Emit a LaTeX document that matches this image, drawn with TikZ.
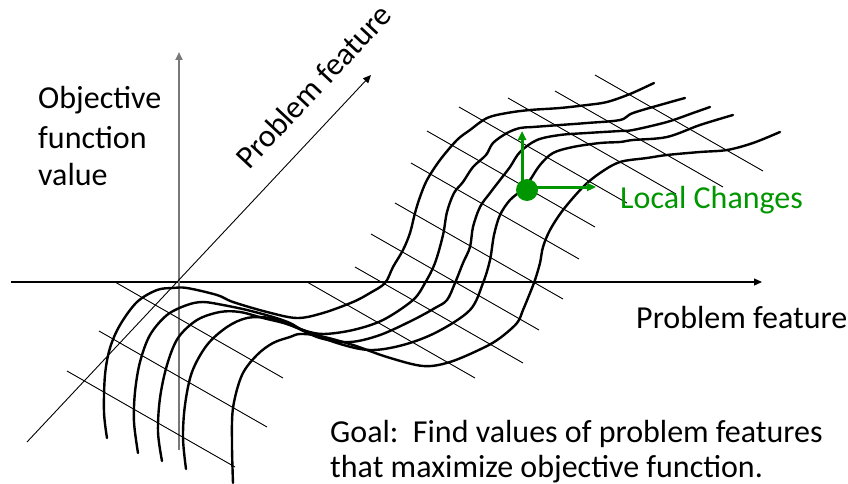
\documentclass[tikz,border=0pt]{standalone}
\usepackage{fontspec}
\setmainfont{Carlito}
\usetikzlibrary{arrows.meta}
\definecolor{lcgreen}{RGB}{0,150,0}
\definecolor{axisgray}{RGB}{120,120,120}
\begin{document}
\begin{tikzpicture}[x=1pt,y=-1pt,
  every node/.style={font=\fontsize{32}{39}\selectfont, inner sep=0pt},
  surf/.style={line width=2.4pt, line join=round, line cap=round},
  gridline/.style={line width=0.9pt},
  axisline/.style={line width=1.2pt, -{Triangle[length=8pt,width=7pt]}},
  vaxisline/.style={draw=axisgray, line width=2pt, -{Triangle[length=8pt,width=7pt]}},
  lcarrow/.style={draw=lcgreen, line width=3pt, -{Triangle[length=9pt,width=8pt]}}]
\useasboundingbox (0,0) rectangle (848,484);

% axes
\coordinate (hA) at (11,282);
\coordinate (hB) at (762,282);
\coordinate (vA) at (179,450);
\coordinate (vB) at (179,52);
\coordinate (dA) at (27,442);
\coordinate (dB) at (371,75);
\draw[axisline] (hA) -- (hB);
\draw[vaxisline] (vA) -- (vB);
\draw[axisline, line width=0.9pt] (dA) -- (dB);

% grid lines (all the same vector)
\foreach \p in {(595,75),(555,91),(508,98),(459,107),(427,131),(411,163),(395,203),(371,234),(355,267),(307,282),(115,282),(99,331),(67,371)}
  \draw[gridline] \p -- ++(168,96);

% surface cross-sections
\draw[surf] plot[smooth, tension=0.55] coordinates {(107,438) (104,412) (105,375) (110,348) (120,325) (137,302) (157,290) (173,288) (187,288) (217,295) (233,302) (267,312) (297,318) (323,313) (353,302) (370,293) (385,283) (393,267) (403,250) (410,233) (415,213) (420,197) (427,180) (440,160) (457,140) (470,130) (487,118) (507,113) (530,110) (560,108) (587,105) (607,102) (630,94) (654,83)};
\draw[surf] plot[smooth, tension=0.55] coordinates {(138,453) (134,422) (135,392) (140,362) (150,335) (167,315) (187,305) (203,302) (223,305) (247,310) (273,317) (290,323) (303,330) (323,334) (353,330) (383,320) (413,300) (425,283) (435,263) (443,235) (447,212) (454,193) (463,182) (473,167) (486,155) (493,143) (507,133) (520,128) (533,127) (560,125) (587,123) (620,120) (633,113) (667,103) (685,98)};
\draw[surf] plot[smooth, tension=0.55] coordinates {(162,461) (158,432) (160,398) (167,365) (178,338) (197,320) (220,312) (240,312) (263,318) (290,325) (320,338) (350,342) (380,335) (413,320) (435,308) (447,300) (455,283) (463,263) (470,247) (473,227) (480,207) (490,193) (500,180) (510,167) (520,152) (537,140) (560,135) (587,133) (620,131) (633,130) (667,122) (693,113) (710,107)};
\draw[surf] plot[smooth, tension=0.55] coordinates {(186,469) (183,438) (185,405) (192,372) (207,345) (227,327) (247,318) (270,318) (290,325) (337,343) (370,350) (403,345) (437,332) (470,310) (483,283) (490,260) (494,235) (500,215) (510,200) (522,190) (530,180) (540,165) (553,153) (573,147) (600,143) (620,142) (633,140) (667,137) (700,125) (733,115)};
\draw[surf] plot[smooth, tension=0.55] coordinates {(233,483) (232,445) (233,408) (242,375) (257,355) (273,343) (290,337) (300,334) (320,336) (353,345) (387,357) (423,366) (450,362) (483,348) (500,338) (517,323) (523,310) (530,293) (535,280) (540,263) (543,247) (550,230) (563,210) (583,187) (600,173) (620,162) (647,158) (667,155) (700,152) (727,150) (753,143) (780,132)};

% local changes
\coordinate (lcO) at (522,187);
\coordinate (lcUp) at (522,131);
\coordinate (lcRt) at (596,187);
\draw[lcarrow] (lcO) -- (lcUp);
\draw[lcarrow] (lcO) -- (lcRt);
\fill[lcgreen] (527,190) circle (11);

% texts
\node[anchor=base west] (obj1) at (38,109) {Objective};
\node[anchor=base west] (obj2) at (38,148) {function};
\node[anchor=base west] (obj3) at (38,185) {value};
\node[anchor=base west, rotate=46.9] (pfd) at (249,171) {Problem feature};
\node[anchor=base west] (pfh) at (636,328) {Problem feature};
\node[anchor=base west, text=lcgreen] (lct) at (620,208) {Local Changes};
\node[anchor=base west] (goal1) at (330,442) {Goal:\ \ Find values of problem features};
\node[anchor=base west] (goal2) at (330,477) {that maximize objective function.};
\end{tikzpicture}
\end{document}
